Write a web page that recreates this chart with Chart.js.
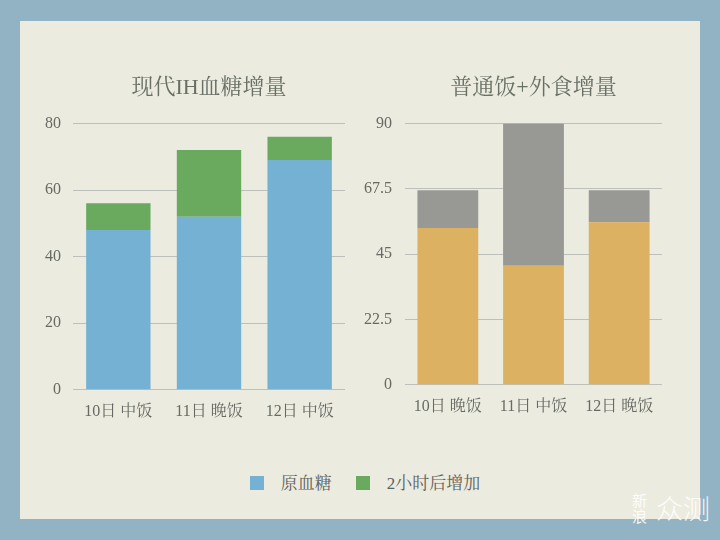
<!DOCTYPE html>
<html>
<head>
<meta charset="utf-8">
<script src="https://cdn.jsdelivr.net/npm/chart.js@4"></script>
<style>
  html, body { margin: 0; padding: 0; }
  body {
    width: 720px; height: 540px; position: relative; overflow: hidden;
    background: #91b3c4;
    font-family: 'Liberation Serif', 'Noto Serif CJK SC', 'Noto Sans CJK SC', serif;
  }
  #paper {
    position: absolute; left: 20px; top: 21px; width: 680px; height: 498px;
    background: #ecebe0;
  }
  .chartBox { position: absolute; }
  #legend {
    position: absolute; left: 0; top: 469px; width: 720px;
    text-align: center; font-size: 17px; color: #5f625c;
    padding-left: 10px; box-sizing: border-box;
  }
  #legend span.item { display: inline-block; margin: 0 12px; }
  #legend i {
    display: inline-block; width: 14px; height: 14px; vertical-align: -1px;
    margin-right: 17px;
  }
  #mark { position: absolute; left: 632px; top: 492px; color: rgba(255,255,255,0.9); }
  #mark .a { position: absolute; left: 0; top: 0; font-size: 15px; line-height: 16px; width: 16px; font-family: 'Noto Sans CJK SC'; }
  #mark .b { position: absolute; left: 24px; top: 0; font-size: 27px; line-height: 32px; font-family: 'Noto Sans CJK SC'; font-weight: 300; white-space: nowrap; }
</style>
</head>
<body>
<div id="paper"></div>
<div class="chartBox" style="left:30px; top:60px; width:330px; height:367px;"><canvas id="leftChart"></canvas></div>
<div class="chartBox" style="left:360px; top:60px; width:320px; height:362px;"><canvas id="rightChart"></canvas></div>
<div id="legend"></div>
<div id="mark"><div class="a">新浪</div><div class="b">众测</div></div>

<script>
// data
const leftTitle = '现代IH血糖增量';
const leftLabels = ['10日 中饭', '11日 晚饭', '12日 中饭'];
const leftBase = [48, 52, 69];
const leftIncrease = [8, 20, 7];
const leftTicks = [0, 20, 40, 60, 80];

const rightTitle = '普通饭+外食增量';
const rightLabels = ['10日 晚饭', '11日 中饭', '12日 晚饭'];
const rightBase = [54, 41, 56];
const rightIncrease = [13, 49, 11];
const rightTicks = [0, 22.5, 45, 67.5, 90];

const seriesNames = ['原血糖', '2小时后增加'];

const FONT = "'Liberation Serif', 'Noto Serif CJK SC', 'Noto Sans CJK SC', serif";
const TEXT = '#666a63';
const GRID = 'rgba(150, 155, 155, 0.55)';

const leftColors = ['#74b1d2', '#69aa5f'];
const rightColors = ['#dcb162', '#989995'];

Chart.defaults.font.family = FONT;
Chart.defaults.color = TEXT;

function makeChart(id, title, labels, base, inc, ticks, colors, axisWidth, tickPad, padRight) {
  const ctx = document.getElementById(id);
  return new Chart(ctx, {
    type: 'bar',
    data: {
      labels: labels,
      datasets: [
        { label: seriesNames[0], data: base, backgroundColor: colors[0], borderWidth: 0 },
        { label: seriesNames[1], data: inc, backgroundColor: colors[1], borderWidth: 0 }
      ]
    },
    options: {
      responsive: true,
      maintainAspectRatio: false,
      animation: false,
      layout: { padding: { left: 0, right: padRight, top: 0, bottom: 2 } },
      datasets: {
        bar: { barPercentage: 0.71, categoryPercentage: 1 }
      },
      plugins: {
        legend: { display: false },
        tooltip: { enabled: false },
        title: {
          display: true,
          text: title,
          fullSize: false,
          color: '#687066',
          font: { size: 22, weight: 'normal' },
          padding: { top: 15, bottom: 22 }
        }
      },
      scales: {
        x: {
          stacked: true,
          grid: { display: false },
          border: { display: false },
          ticks: { font: { size: 16 }, padding: 4, color: TEXT }
        },
        y: {
          stacked: true,
          z: 1,
          min: ticks[0],
          max: ticks[ticks.length - 1],
          afterBuildTicks: function(scale) {
            scale.ticks = ticks.map(v => ({ value: v }));
          },
          afterFit: function(scale) { scale.width = axisWidth; },
          grid: { color: GRID, drawTicks: false, lineWidth: 1 },
          border: { display: false },
          ticks: { font: { size: 16 }, padding: tickPad, color: TEXT }
        }
      }
    }
  });
}

makeChart('leftChart', leftTitle, leftLabels, leftBase, leftIncrease, leftTicks, leftColors, 43, 12, 15);
makeChart('rightChart', rightTitle, rightLabels, rightBase, rightIncrease, rightTicks, rightColors, 45, 13, 18);

// legend for the left chart's series, shown under both charts
const legend = document.getElementById('legend');
seriesNames.forEach(function(name, i) {
  const item = document.createElement('span');
  item.className = 'item';
  const sw = document.createElement('i');
  sw.style.background = leftColors[i];
  item.appendChild(sw);
  item.appendChild(document.createTextNode(name));
  legend.appendChild(item);
});
</script>
</body>
</html>
